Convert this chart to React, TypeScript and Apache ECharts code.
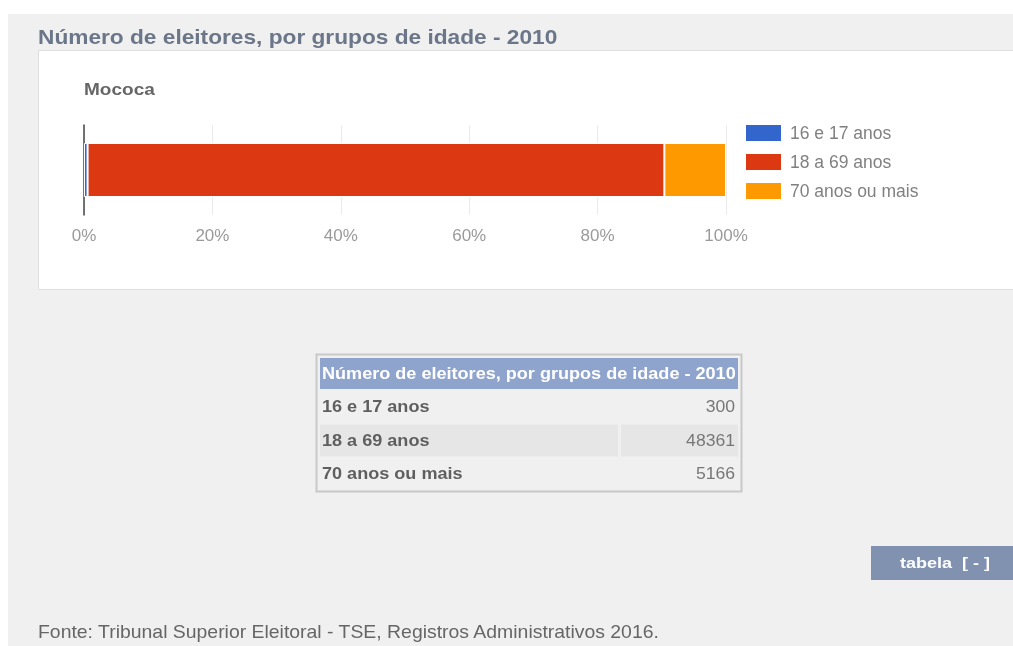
import React, { useEffect, useRef } from "react";
import * as echarts from "echarts";

const pageTitle = "Número de eleitores, por grupos de idade - 2010";
const place = "Mococa";
const categories = ["16 e 17 anos", "18 a 69 anos", "70 anos ou mais"];
const values = [300, 48361, 5166];
const colors = ["#3366cc", "#dc3912", "#ff9900"];
const source = "Fonte: Tribunal Superior Eleitoral - TSE, Registros Administrativos 2016.";
const buttonLabel = "tabela  [ - ]";

const FONT = "Arial, 'Liberation Sans', sans-serif";

export default function App() {
  const ref = useRef<HTMLDivElement>(null);
  useEffect(() => {
    if (!ref.current) return;
    const chart = echarts.init(ref.current, undefined, { renderer: "svg" });
    const total = values.reduce((a, b) => a + b, 0);
    const pct = values.map((v) => (v / total) * 100);

    const rowH = 33.5;
    const graphics: any[] = [
      { type: "rect", z: -10, shape: { x: 8, y: 14, width: 1010, height: 640 }, style: { fill: "#f0f0f0" }, silent: true },
      { type: "rect", z: -9, shape: { x: 38.5, y: 50.5, width: 990, height: 239 }, style: { fill: "#ffffff", stroke: "#dedede", lineWidth: 1 }, silent: true },
      { type: "text", z: 10, x: 38, y: 37, scaleX: 1.135, style: { text: pageTitle, font: `bold 20px ${FONT}`, fill: "#6b7689", verticalAlign: "middle" } },
      { type: "text", z: 10, x: 84, y: 89, scaleX: 1.12, style: { text: place, font: `bold 17px ${FONT}`, fill: "#666666", verticalAlign: "middle" } },
      // table
      { type: "rect", z: -8, shape: { x: 316.5, y: 354.5, width: 425, height: 137 }, style: { fill: "#f0f0f0", stroke: "#c8c8c8", lineWidth: 2 } },
      { type: "rect", z: -7, shape: { x: 320, y: 358, width: 418, height: 31 }, style: { fill: "#8fa4cc" } },
      { type: "text", z: 10, x: 322, y: 374, scaleX: 1.13, style: { text: pageTitle, font: `bold 16px ${FONT}`, fill: "#ffffff", verticalAlign: "middle" } },
    ];

    categories.forEach((c, i) => {
      const cy = 407 + i * rowH;
      if (i === 1) {
        graphics.push({ type: "rect", z: -7, shape: { x: 320, y: cy - 16, width: 298, height: 32 }, style: { fill: "#e6e6e6" } });
        graphics.push({ type: "rect", z: -7, shape: { x: 621, y: cy - 16, width: 117, height: 32 }, style: { fill: "#e6e6e6" } });
      }
      graphics.push({ type: "text", z: 10, x: 322, y: cy, scaleX: 1.13, style: { text: c, font: `bold 16px ${FONT}`, fill: "#5f5f5f", verticalAlign: "middle" } });
      graphics.push({ type: "text", z: 10, x: 735, y: cy, scaleX: 1.1, style: { text: String(values[i]), font: `16px ${FONT}`, fill: "#777777", align: "right", verticalAlign: "middle" } });
    });

    graphics.push({ type: "rect", z: -7, shape: { x: 871, y: 546, width: 150, height: 34 }, style: { fill: "#8192b1" } });
    graphics.push({ type: "text", z: 10, x: 945, y: 563, scaleX: 1.2, style: { text: buttonLabel, font: `bold 15px ${FONT}`, fill: "#ffffff", align: "center", verticalAlign: "middle" } });
    graphics.push({ type: "text", z: 10, x: 38, y: 632, scaleX: 1.11, style: { text: source, font: `17.5px ${FONT}`, fill: "#666666", verticalAlign: "middle" } });

    chart.setOption({
      animation: false,
      textStyle: { fontFamily: FONT },
      graphic: graphics,
      legend: {
        orient: "vertical",
        left: 739,
        top: 118,
        itemWidth: 37,
        itemHeight: 18,
        itemGap: 9,
        icon: "rect",
        textStyle: { fontSize: 17.5, lineHeight: 18, color: "#808080", padding: [0, 0, 0, 3] },
        data: categories,
      },
      grid: { left: 84, top: 125, width: 642, height: 90, containLabel: false },
      xAxis: {
        type: "value",
        min: 0,
        max: 100,
        interval: 20,
        axisLine: { show: false },
        axisTick: { show: false },
        axisLabel: { formatter: "{value}%", color: "#9a9a9a", fontSize: 17, margin: 12 },
        splitLine: { show: true, lineStyle: { color: "#ebebeb", width: 1 } },
      },
      yAxis: {
        type: "category",
        data: [place],
        axisLine: { show: true, lineStyle: { color: "#444444", width: 1.5 } },
        axisTick: { show: false },
        axisLabel: { show: false },
      },
      series: categories.map((c, i) => ({
        name: c,
        type: "bar",
        stack: "total",
        barWidth: 54,
        data: [pct[i]],
        itemStyle: { color: colors[i], borderColor: "#ffffff", borderWidth: 1 },
      })),
    });
    return () => chart.dispose();
  }, []);
  return <div ref={ref} style={{ position: "fixed", left: 0, top: 0, width: 1013, height: 646 }} />;
}
